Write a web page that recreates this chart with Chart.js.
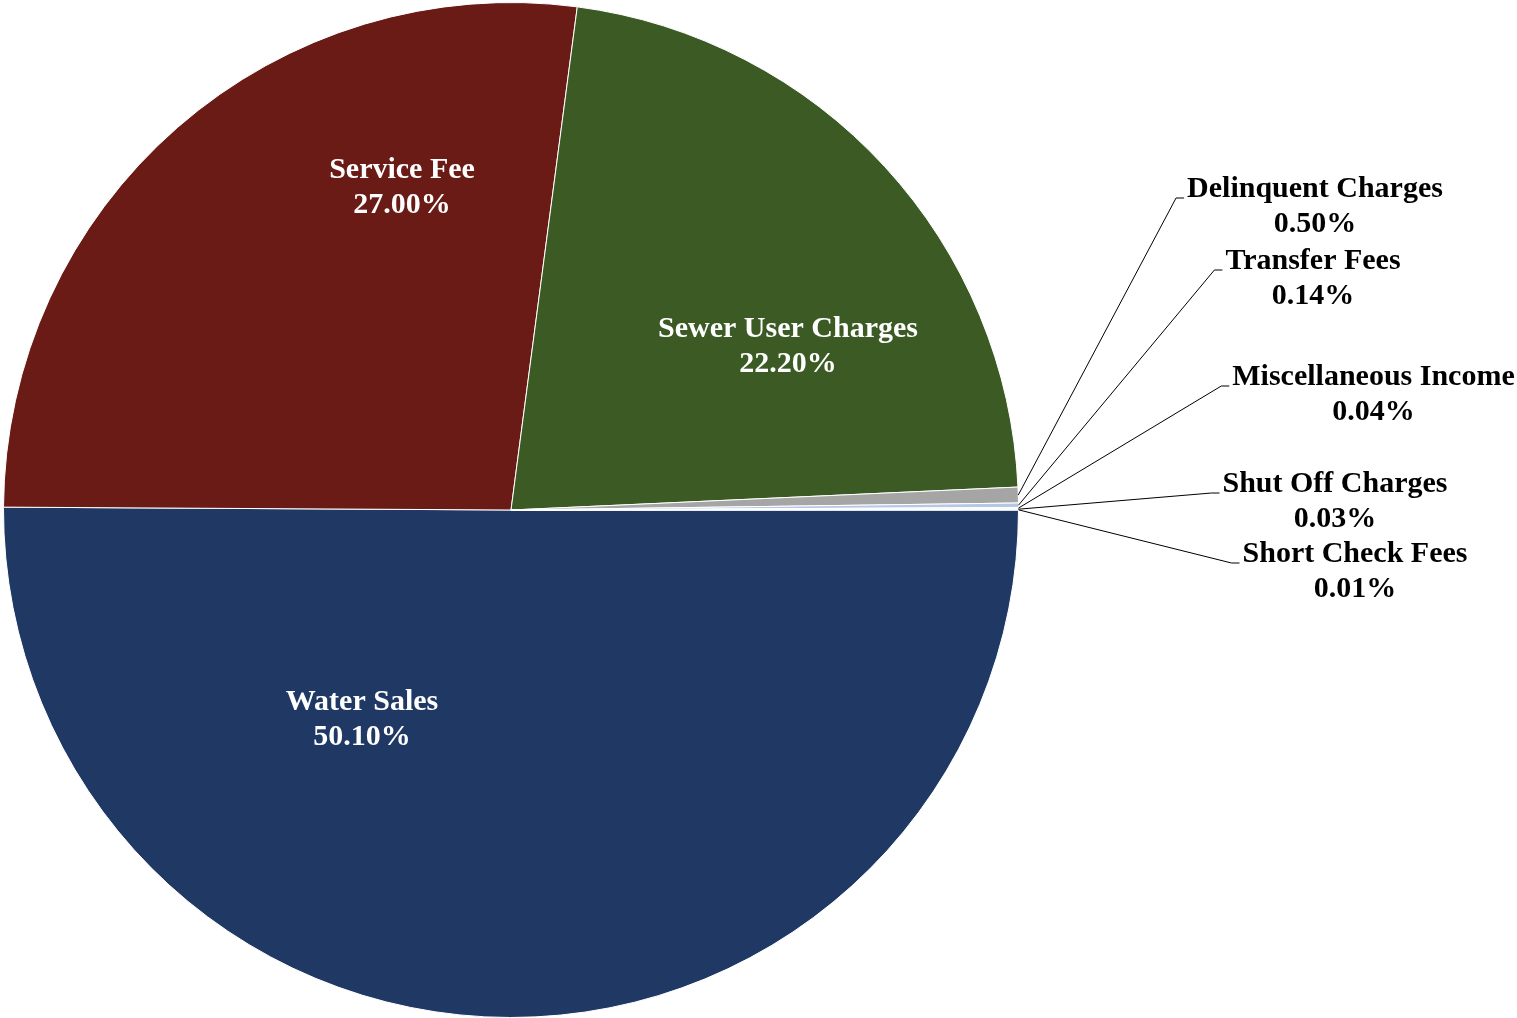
<!DOCTYPE html>
<html>
<head>
<meta charset="utf-8">
<script src="https://cdn.jsdelivr.net/npm/chart.js@4.4.0/dist/chart.umd.min.js"></script>
<style>
  html, body { margin: 0; padding: 0; background: #ffffff; }
  #wrap { position: relative; width: 1517px; height: 1018px; }
</style>
</head>
<body>
<div id="wrap"><canvas id="c" width="1517" height="1018"></canvas></div>
<script>
// ---- Data ----
const categories = ["Water Sales", "Service Fee", "Sewer User Charges", "Delinquent Charges", "Transfer Fees", "Miscellaneous Income", "Shut Off Charges", "Short Check Fees"];
const shares = [50.10, 27.00, 22.20, 0.50, 0.14, 0.04, 0.03, 0.01];
const percentLabels = ["50.10%", "27.00%", "22.20%", "0.50%", "0.14%", "0.04%", "0.03%", "0.01%"];

// ---- Style ----
const sliceColors = ["#203864", "#6A1B16", "#3C5A24", "#A5A5A5", "#B4C7E7", "#C5E0B4", "#F8CBAD", "#8FAADC"];
const insideLabel = [true, true, true, false, false, false, false, false];
// label anchor (center x, first-line baseline) offsets from pie center, in px
const labelOffsets = [[-149, 200], [-109, -332], [277, -173], [804, -313], [802, -241], [862.5, -125], [824, -18], [844, 52]];

const FONT = 'bold 30px "Liberation Serif", "Times New Roman", serif';
const LINE = 35;

const labelPlugin = {
  id: 'pieLabels',
  afterDatasetsDraw(chart) {
    const ctx = chart.ctx;
    const meta = chart.getDatasetMeta(0);
    ctx.save();
    ctx.font = FONT;
    ctx.textAlign = 'center';
    ctx.textBaseline = 'alphabetic';
    meta.data.forEach((arc, i) => {
      const cx = arc.x, cy = arc.y;
      const [ox, oy] = labelOffsets[i];
      const lx = cx + ox, ly = cy + oy;
      if (insideLabel[i]) {
        ctx.fillStyle = '#ffffff';
      } else {
        ctx.fillStyle = '#000000';
        const w = ctx.measureText(categories[i]).width;
        const left = lx - w / 2;
        const mid = (arc.startAngle + arc.endAngle) / 2;
        const sx = cx + Math.cos(mid) * arc.outerRadius;
        const sy = cy + Math.sin(mid) * arc.outerRadius;
        ctx.strokeStyle = '#000000';
        ctx.lineWidth = 1;
        ctx.beginPath();
        ctx.moveTo(sx, sy);
        ctx.lineTo(left - 11, ly + 1);
        ctx.lineTo(left - 3, ly + 1);
        ctx.stroke();
      }
      ctx.fillText(categories[i], lx, ly);
      ctx.fillText(percentLabels[i], lx, ly + LINE);
    });
    ctx.restore();
  }
};

new Chart(document.getElementById('c'), {
  type: 'pie',
  data: {
    labels: categories,
    datasets: [{
      data: shares,
      backgroundColor: sliceColors,
      borderColor: '#ffffff',
      borderWidth: 1
    }]
  },
  options: {
    responsive: false,
    animation: false,
    rotation: 90,
    layout: { padding: { left: 3, top: 2, right: 498, bottom: 0 } },
    plugins: {
      legend: { display: false },
      tooltip: { enabled: false }
    }
  },
  plugins: [labelPlugin]
});
</script>
</body>
</html>
